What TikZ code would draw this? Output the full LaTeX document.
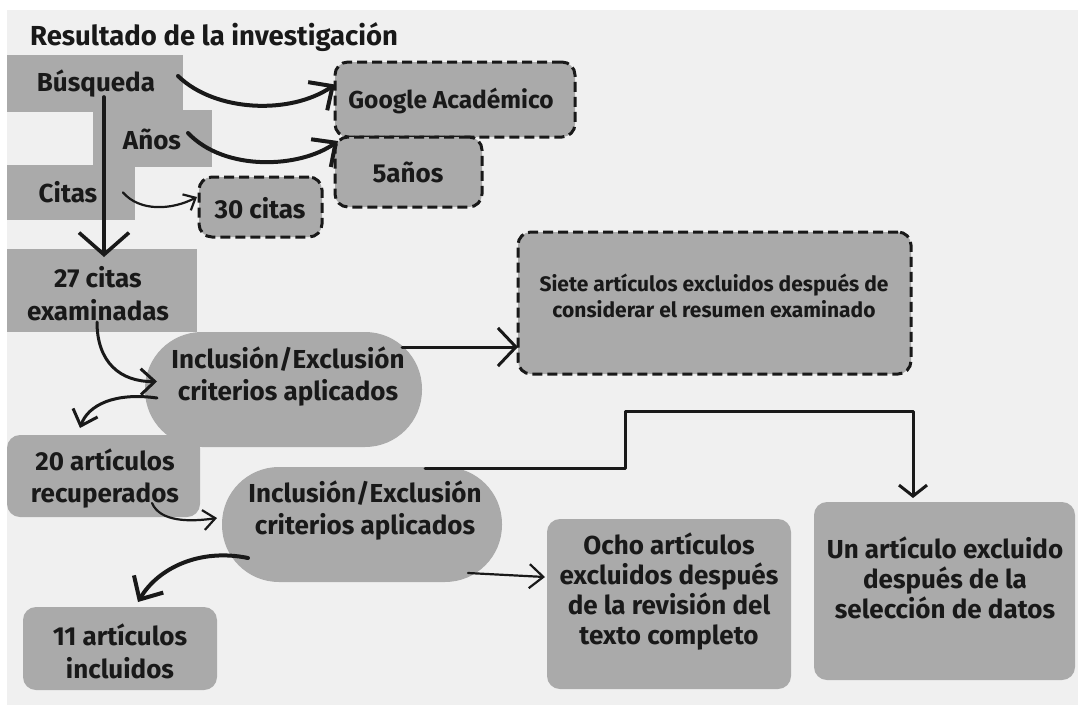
\documentclass[tikz,border=0pt]{standalone}
\usepackage{fontspec}
\setmainfont{Fira Sans}
\usetikzlibrary{arrows.meta,calc}
\definecolor{bg}{RGB}{240,240,240}
\definecolor{boxgray}{RGB}{170,170,170}
\definecolor{ink}{RGB}{25,25,25}
\begin{document}
\begin{tikzpicture}[x=1pt,y=-1pt,
  plain/.style={fill=boxgray, draw=none, outer sep=0pt, inner sep=0pt, anchor=north west},
  roundbox/.style={plain, rounded corners=13pt},
  stadium/.style={plain, rounded corners=57pt},
  dashbox/.style={plain, draw=ink, line width=3pt, dash pattern=on 10pt off 5pt, rounded corners=13pt},
  txt/.style={font=\bfseries\fontsize{26}{32}\selectfont, text=ink, align=center, inner sep=0pt},
  titletxt/.style={font=\bfseries\fontsize{27.5}{30}\selectfont, text=ink, inner sep=0pt},
  conn/.style={draw=ink, line cap=round, line join=round},
  heavy/.style={conn, line width=4pt},
  medium/.style={conn, line width=3pt},
  light/.style={conn, line width=2.2pt}
]
\useasboundingbox (0,0) rectangle (1078,707);
\fill[white] (0,0) rectangle (1078,707);
\fill[bg] (7,10) rectangle (1078,705);

% title
\node[titletxt, anchor=base west] (title) at (30,45) {Resultado de la investigación};

% search block
\node[plain, minimum width=176pt, minimum height=57pt] (busq) at (7,55) {};
\node[plain, minimum width=119pt, minimum height=57pt] (anos) at (93,110) {};
\node[plain, minimum width=128pt, minimum height=55pt] (citas) at (7,165) {};
\node[txt] (busqt) at (96,84) {Búsqueda};
\node[txt] (anost) at (152,139) {Años};
\node[txt] (citast) at (68,192) {Citas};

% dashed boxes
\node[dashbox, minimum width=240pt, minimum height=75pt] (google) at (335,62) {};
\node[dashbox, minimum width=147pt, minimum height=70pt] (cinco) at (335,137) {};
\node[dashbox, minimum width=123pt, minimum height=60pt] (treinta) at (199,177) {};
\node[txt, font=\bfseries\fontsize{24.5}{30}\selectfont] (googlet) at (451,101) {Google Académico};
\node[txt] (cincot) at (408,172) {5años};
\node[txt] (treintat) at (260,208) {30 citas};

% 27 citas
\node[plain, minimum width=190pt, minimum height=83pt] (c27) at (7,249) {};
\node[txt, font=\bfseries\fontsize{26}{33}\selectfont] (c27t) at (98,294) {27 citas\\examinadas};

% first inclusion/exclusion
\node[stadium, minimum width=277pt, minimum height=115pt] (inc1) at (145,332) {};
\node[txt] (inc1t) at (288,377) {Inclusión/Exclusión\\criterios aplicados};

% siete
\node[dashbox, minimum width=393pt, minimum height=142pt] (siete) at (518,232) {};
\node[txt, font=\bfseries\fontsize{21}{26}\selectfont] (sietet) at (714,296) {Siete artículos excluidos después de\\considerar el resumen examinado};

% 20 articulos
\node[roundbox, minimum width=193pt, minimum height=82pt] (a20) at (7,435) {};
\node[txt] (a20t) at (105,479) {20 artículos\\recuperados};

% second inclusion/exclusion
\node[stadium, minimum width=280pt, minimum height=115pt] (inc2) at (222,467) {};
\node[txt] (inc2t) at (365,511) {Inclusión/Exclusión\\criterios aplicados};

% 11 articulos
\node[roundbox, minimum width=194pt, minimum height=83pt] (a11) at (23,607) {};
\node[txt, font=\bfseries\fontsize{26}{33}\selectfont] (a11t) at (120,651) {11 artículos\\incluidos};

% ocho
\node[roundbox, minimum width=244pt, minimum height=170pt] (ocho) at (547,519) {};
\node[txt, font=\bfseries\fontsize{26}{30}\selectfont] (ochot) at (669,592) {Ocho artículos\\excluidos después\\de la revisión del\\texto completo};

% un articulo
\node[roundbox, minimum width=261pt, minimum height=178pt] (uno) at (814,502) {};
\node[txt, font=\bfseries\fontsize{26}{30}\selectfont] (unot) at (945,578) {Un artículo excluido\\después de la\\selección de datos};

% connectors
\draw[heavy, -{Straight Barb[length=18pt,width=34pt]}]
  ($(busq.north east)+(-5,21)$) .. controls (215,112) and (290,115) .. ($(google.west)+(0,-15)$);
\draw[heavy, -{Straight Barb[length=18pt,width=34pt]}]
  ($(anos.north east)+(-24,23)$) .. controls (225,172) and (300,168) .. ($(cinco.north west)+(3,4)$);
\draw[light, -{Straight Barb[length=10pt,width=18pt]}]
  ($(citas.east)+(-12,0)$) .. controls (140,212) and (172,210) .. ($(treinta.west)+(-2,-10)$);
\draw[conn, line width=3.6pt, -{Straight Barb[length=22pt,width=50pt]}]
  ($(busq.south)+(9,-15)$) -- ($(c27.north)+(2,8)$);
\draw[medium, -{Straight Barb[length=14pt,width=26pt]}]
  ($(c27.south)+(-5,-10)$) .. controls (97,362) and (120,382) .. ($(inc1.west)+(12,-8)$);
\draw[medium, -{Straight Barb[length=14pt,width=26pt]}]
  ($(inc1.west)+(12,8.5)$) .. controls (115,392) and (88,405) .. ($(a20.north)+(-23.5,-7)$);
\draw[medium, -{Straight Barb[length=18pt,width=38pt]}]
  ($(inc1.north east)+(-20,15)$) -- ($(siete.west)+(0,44)$);
\draw[light, -{Straight Barb[length=12pt,width=20pt]}]
  ($(a20.south east)+(-48,-14)$) .. controls (160,522) and (190,522) .. ($(inc2.west)+(-5,-6.5)$);
\draw[heavy, -{Straight Barb[length=18pt,width=34pt]}]
  ($(inc2.west)+(26,33.5)$) .. controls (200,548) and (158,568) .. ($(a11.north)+(18,-5)$);
\draw[light, -{Straight Barb[length=14pt,width=24pt]}]
  ($(inc2.south east)+(-34,-9)$) -- ($(ocho.west)+(-2,-27)$);
\draw[medium, -{Straight Barb[length=11pt,width=28pt]}]
  ($(inc2.north)+(63,1)$) -- (625,468) -- (625,411) -- (913,411) -- ($(uno.north)+(-31.5,-4)$);
\end{tikzpicture}
\end{document}
